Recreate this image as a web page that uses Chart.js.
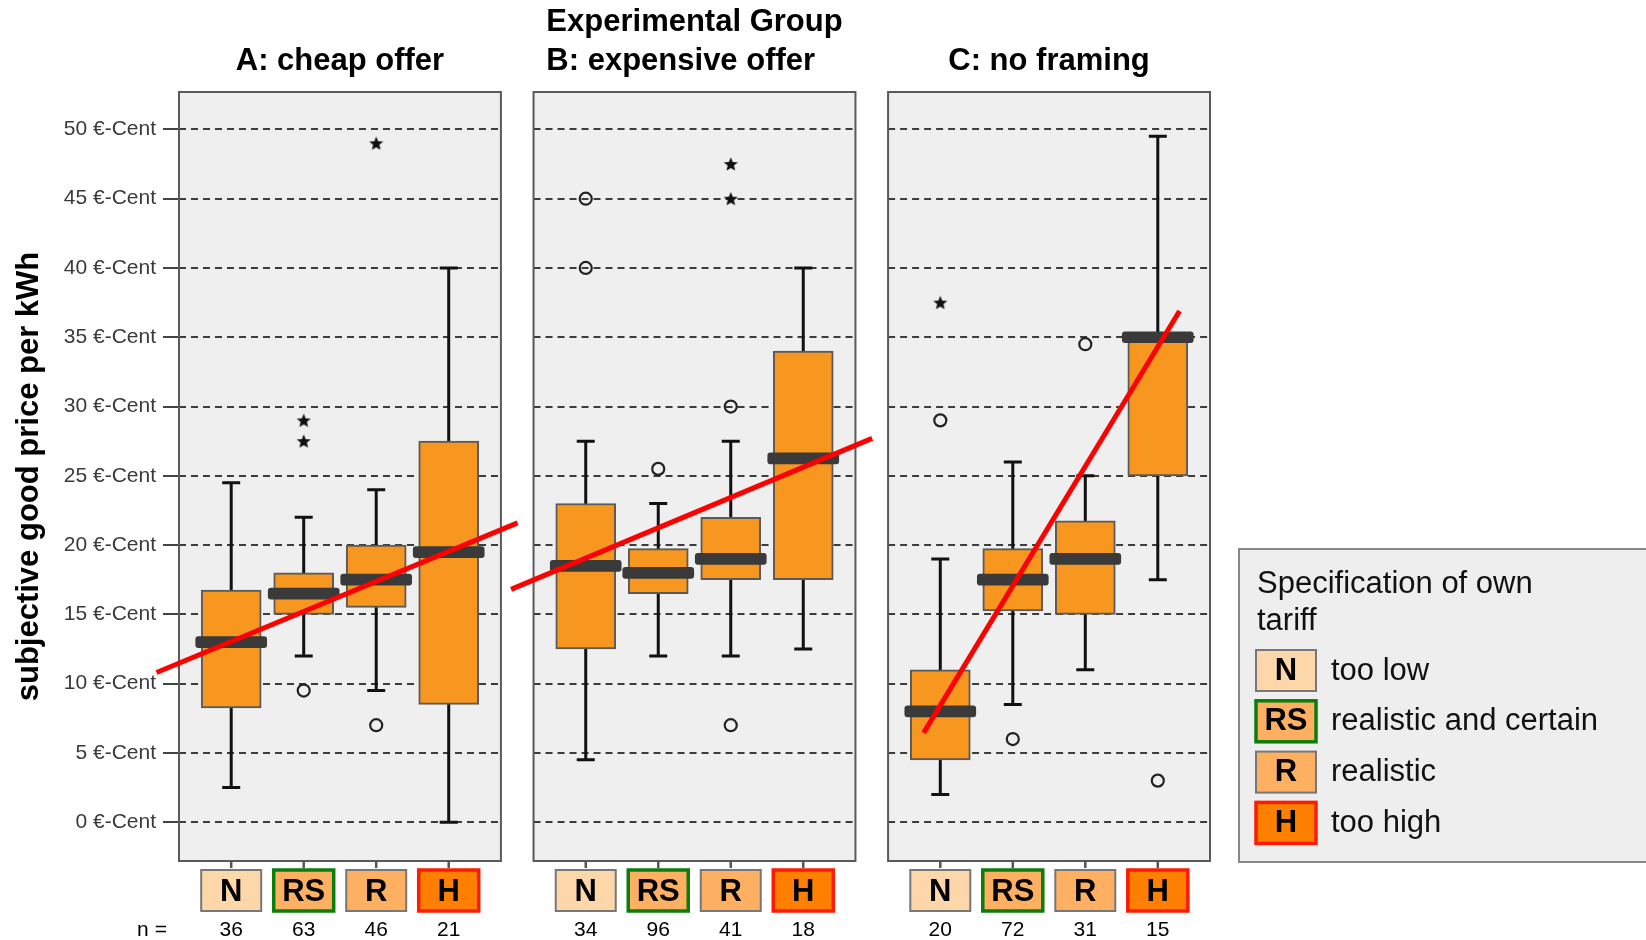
<!DOCTYPE html>
<html>
<head>
<meta charset="utf-8">
<script src="https://cdn.jsdelivr.net/npm/chart.js@4.4.1/dist/chart.umd.min.js"></script>
<style>
  body { margin: 0; background: #fff; }
  #priceChart { display: block; }
</style>
</head>
<body>
<canvas id="priceChart" width="1646" height="940"></canvas>
<script>
// ---- data ----
var headline = 'Experimental Group';
var groups = ['A: cheap offer', 'B: expensive offer', 'C: no framing'];
var categories = ['N', 'RS', 'R', 'H'];
var categoryNames = ['too low', 'realistic and certain', 'realistic', 'too high'];
var legendTitle = ['Specification of own', 'tariff'];
var counts = [[36, 63, 46, 21], [34, 96, 41, 18], [20, 72, 31, 15]];

var whiskerLow  = [[2.5, 12, 9.5, 0],     [4.5, 12, 12, 12.5],      [2, 8.5, 11, 17.5]];
var q1          = [[8.25, 15, 15.5, 8.5], [12.5, 16.5, 17.5, 17.5], [4.5, 15.25, 15, 25]];
var median      = [[13, 16.5, 17.5, 19.5],[18.5, 18, 19, 26.25],    [8, 17.5, 19, 35]];
var q3          = [[16.75, 18, 20, 27.5], [23, 19.75, 22, 34],      [11, 19.75, 21.75, 35]];
var whiskerHigh = [[24.5, 22, 24, 40],    [27.5, 23, 27.5, 40],     [19, 26, 25, 49.5]];

// outliers (circles) and extremes (stars), per group and category
var outliers = [
  [[], [9.5], [7], []],
  [[45, 40], [25.5], [30, 7], []],
  [[29], [6], [34.5], [3]]
];
var extremes = [
  [[], [29, 27.5], [49], []],
  [[], [], [47.5, 45], []],
  [[37.5], [], [], []]
];

// red trend lines: [category position, value] at start and end, per group
var trendStart = [[-1.03, 10.8], [-1.03, 16.8], [-0.23, 6.45]];
var trendEnd   = [[3.95, 21.6],  [3.95, 27.7],  [3.3, 36.9]];

var yTicks = [0, 5, 10, 15, 20, 25, 30, 35, 40, 45, 50];
var yUnit = '€-Cent';
var yTitle = 'subjective good price per kWh';
var nLabel = 'n =';

// ---- layout / style ----
var panelOffset = [0, 4.89, 9.78];
var panelPad = 0.72;
var medianHalf = 0.4;
var boxColor = '#f7971f';
var catFill = ['#fdd6aa', '#fdb062', '#fdb062', '#ff8000'];
var catBorder = ['#777777', '#0b7d0b', '#777777', '#ff1a00'];
var catBorderWidth = [2, 3.5, 2, 3.5];
var FONT = '"Liberation Sans", Arial, sans-serif';

Chart.defaults.font.family = FONT;
Chart.defaults.color = '#000';

function xPos(gi, ci) { return panelOffset[gi] + ci; }

var boxData = [], medianData = [], circleData = [], starData = [];
groups.forEach(function (g, gi) {
  categories.forEach(function (c, ci) {
    boxData.push({ x: xPos(gi, ci), y: [q1[gi][ci], q3[gi][ci]] });
    medianData.push({ x: xPos(gi, ci), y: [median[gi][ci] - medianHalf, median[gi][ci] + medianHalf] });
    outliers[gi][ci].forEach(function (v) { circleData.push({ x: xPos(gi, ci), y: v }); });
    extremes[gi][ci].forEach(function (v) { starData.push({ x: xPos(gi, ci), y: v }); });
  });
});

// filled five point star as point style
var star = document.createElement('canvas');
star.width = 16; star.height = 16;
(function () {
  var s = star.getContext('2d');
  s.beginPath();
  for (var i = 0; i < 10; i++) {
    var r = i % 2 === 0 ? 7.4 : 3.3;
    var a = -Math.PI / 2 + i * Math.PI / 5;
    s.lineTo(8 + r * Math.cos(a), 8.6 + r * Math.sin(a));
  }
  s.closePath();
  s.fillStyle = '#111';
  s.fill();
})();

var trendSets = groups.map(function (g, gi) {
  return {
    type: 'line',
    data: [
      { x: panelOffset[gi] + trendStart[gi][0], y: trendStart[gi][1] },
      { x: panelOffset[gi] + trendEnd[gi][0], y: trendEnd[gi][1] }
    ],
    borderColor: '#ff0000',
    borderWidth: 5,
    pointRadius: 0,
    clip: false,
    order: 0
  };
});

var panels = {
  id: 'panels',
  beforeDatasetsDraw: function (chart) {
    var ctx = chart.ctx, xs = chart.scales.x, ys = chart.scales.y, area = chart.chartArea;
    ctx.save();
    groups.forEach(function (g, gi) {
      var l = xs.getPixelForValue(panelOffset[gi] - panelPad);
      var r = xs.getPixelForValue(panelOffset[gi] + 3 + panelPad);
      ctx.fillStyle = '#efefef';
      ctx.fillRect(l, area.top, r - l, area.bottom - area.top);
      // dashed grid
      ctx.strokeStyle = '#3c3c3c';
      ctx.lineWidth = 2;
      ctx.setLineDash([7, 5]);
      yTicks.forEach(function (v) {
        var y = Math.round(ys.getPixelForValue(v));
        ctx.beginPath();
        ctx.moveTo(l, y);
        ctx.lineTo(r, y);
        ctx.stroke();
      });
      ctx.setLineDash([]);
      ctx.strokeStyle = '#5a5a5a';
      ctx.strokeRect(l, area.top, r - l, area.bottom - area.top);
      // whiskers
      ctx.strokeStyle = '#111';
      ctx.lineWidth = 3;
      categories.forEach(function (c, ci) {
        var x = xs.getPixelForValue(xPos(gi, ci));
        var yl = ys.getPixelForValue(whiskerLow[gi][ci]);
        var yh = ys.getPixelForValue(whiskerHigh[gi][ci]);
        ctx.beginPath();
        ctx.moveTo(x, yl); ctx.lineTo(x, yh);
        ctx.moveTo(x - 9, yl); ctx.lineTo(x + 9, yl);
        ctx.moveTo(x - 9, yh); ctx.lineTo(x + 9, yh);
        ctx.stroke();
      });
    });
    ctx.restore();
  },
  afterDraw: function (chart) {
    var ctx = chart.ctx, xs = chart.scales.x, area = chart.chartArea;
    ctx.save();
    ctx.textBaseline = 'middle';
    groups.forEach(function (g, gi) {
      var l = xs.getPixelForValue(panelOffset[gi] - panelPad);
      var r = xs.getPixelForValue(panelOffset[gi] + 3 + panelPad);
      var mid = (l + r) / 2;
      // titles
      ctx.font = 'bold 31px ' + FONT;
      ctx.fillStyle = '#000';
      if (gi === 1) {
        var w = ctx.measureText(headline).width;
        ctx.textAlign = 'left';
        ctx.fillText(headline, mid - w / 2, 22);
        ctx.fillText(g, mid - w / 2, 61);
      } else {
        ctx.textAlign = 'center';
        ctx.fillText(g, mid, 61);
      }
      // category boxes and counts
      categories.forEach(function (c, ci) {
        var x = xs.getPixelForValue(xPos(gi, ci));
        ctx.strokeStyle = '#555';
        ctx.lineWidth = 2.5;
        ctx.beginPath();
        ctx.moveTo(x, area.bottom);
        ctx.lineTo(x, area.bottom + 7);
        ctx.stroke();
        ctx.fillStyle = catFill[ci];
        ctx.fillRect(x - 30, 870, 60, 41);
        ctx.strokeStyle = catBorder[ci];
        ctx.lineWidth = catBorderWidth[ci];
        ctx.strokeRect(x - 30, 870, 60, 41);
        ctx.fillStyle = '#000';
        ctx.textAlign = 'center';
        ctx.font = 'bold 31px ' + FONT;
        ctx.fillText(c, x, 892);
        ctx.font = '21px ' + FONT;
        ctx.fillText(String(counts[gi][ci]), x, 930);
      });
    });
    ctx.font = '21px ' + FONT;
    ctx.textAlign = 'center';
    ctx.fillText(nLabel, 152, 930);

    // legend
    ctx.fillStyle = '#eeeeee';
    ctx.fillRect(1239, 549, 420, 313);
    ctx.strokeStyle = '#888';
    ctx.lineWidth = 2;
    ctx.strokeRect(1239, 549, 420, 313);
    ctx.fillStyle = '#111';
    ctx.textAlign = 'left';
    ctx.font = '31px ' + FONT;
    legendTitle.forEach(function (t, i) { ctx.fillText(t, 1257, 584 + i * 37); });
    categories.forEach(function (c, ci) {
      var cy = 670 + ci * 50.8;
      ctx.fillStyle = catFill[ci];
      ctx.fillRect(1256, cy - 20, 60, 41);
      ctx.strokeStyle = catBorder[ci];
      ctx.lineWidth = catBorderWidth[ci];
      ctx.strokeRect(1256, cy - 20, 60, 41);
      ctx.fillStyle = '#000';
      ctx.textAlign = 'center';
      ctx.font = 'bold 31px ' + FONT;
      ctx.fillText(c, 1286, cy + 1);
      ctx.textAlign = 'left';
      ctx.font = '31px ' + FONT;
      ctx.fillStyle = '#111';
      ctx.fillText(categoryNames[ci], 1331, cy + 1);
    });
    ctx.restore();
  }
};

var ctx = document.getElementById('priceChart').getContext('2d');
var priceChart = new Chart(ctx, {
  type: 'bar',
  data: {
    datasets: trendSets.concat([
      {
        type: 'scatter',
        data: circleData,
        pointStyle: 'circle',
        pointRadius: 6,
        borderWidth: 2.2,
        borderColor: '#222',
        backgroundColor: 'rgba(0,0,0,0)',
        order: 1
      },
      {
        type: 'scatter',
        data: starData,
        pointStyle: star,
        pointRadius: 8,
        order: 1
      },
      {
        data: medianData,
        backgroundColor: '#3a3a3a',
        borderWidth: 0,
        borderRadius: 3,
        borderSkipped: false,
        grouped: false,
        barPercentage: 1,
        categoryPercentage: 1,
        maxBarThickness: 71,
        order: 2
      },
      {
        data: boxData,
        backgroundColor: boxColor,
        borderColor: '#5a5a5a',
        borderWidth: 2,
        borderSkipped: false,
        grouped: false,
        barPercentage: 1,
        categoryPercentage: 1,
        maxBarThickness: 60,
        order: 3
      }
    ])
  },
  options: {
    responsive: false,
    animation: false,
    layout: {
      padding: { left: 0, right: 436, top: 92, bottom: 79 }
    },
    plugins: {
      legend: { display: false },
      tooltip: { enabled: false }
    },
    scales: {
      x: {
        type: 'linear',
        display: false,
        offset: false,
        min: panelOffset[0] - panelPad,
        max: panelOffset[2] + 3 + panelPad
      },
      y: {
        min: -2.8,
        max: 52.7,
        afterBuildTicks: function (scale) {
          scale.ticks = yTicks.map(function (v) { return { value: v }; });
        },
        afterFit: function (scale) { scale.width = 179; },
        ticks: {
          padding: 7,
          color: '#3a3a3a',
          font: { size: 21 },
          callback: function (v) { return v + ' ' + yUnit; }
        },
        grid: {
          drawOnChartArea: false,
          drawTicks: true,
          tickLength: 16,
          color: '#444',
          lineWidth: 2
        },
        border: { display: false },
        title: {
          display: true,
          text: yTitle,
          color: '#000',
          font: { size: 31, weight: 'bold' },
          padding: { top: 11, bottom: 0 }
        }
      }
    }
  },
  plugins: [panels]
});
</script>
</body>
</html>
